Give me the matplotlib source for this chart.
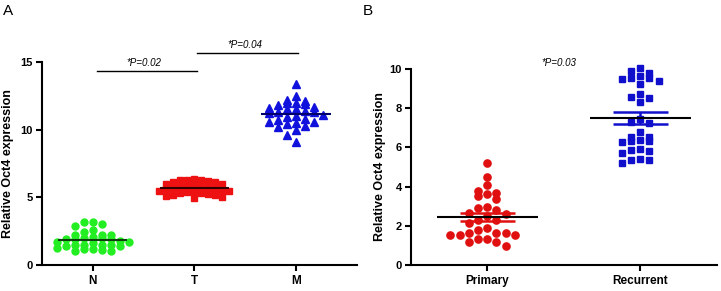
import numpy as np
import matplotlib

matplotlib.use('Agg')
import matplotlib.pyplot as plt

plt.rcParams['font.family'] = ['Liberation Sans', 'DejaVu Sans']

# panel A data
groups_a = ['N', 'T', 'M']
n_vals = [3.15, 3.15, 3.0, 2.85, 2.55, 2.45,
          2.25, 2.2, 2.2, 2.1,
          2.0, 2.0, 1.95, 1.95, 1.9,
          1.75, 1.7, 1.7, 1.65,
          1.5, 1.5, 1.45, 1.45, 1.4, 1.4,
          1.25, 1.2, 1.15, 1.1, 1.0, 1.0]
t_vals = [6.35, 6.3, 6.3, 6.25, 6.2, 6.15, 6.1, 6.0, 5.95, 5.9,
          5.85, 5.8, 5.75, 5.7, 5.7, 5.65, 5.6, 5.55, 5.5, 5.5,
          5.45, 5.4, 5.35, 5.3, 5.25, 5.2, 5.15, 5.1, 5.05, 4.95]
m_vals = [13.4, 12.5, 12.2, 12.1, 12.0, 12.0, 11.9, 11.8, 11.7, 11.6,
          11.5, 11.5, 11.4, 11.3, 11.3, 11.2, 11.1, 11.0, 10.9, 10.8,
          10.7, 10.6, 10.6, 10.5, 10.4, 10.3, 10.2, 10.0, 9.6, 9.1]
p_labels_a = ['*P=0.02', '*P=0.04']

# panel B data
groups_b = ['Primary', 'Recurrent']
primary_vals = [5.2, 4.5, 4.08, 3.78, 3.6, 3.38, 3.5, 3.69,
                2.89, 2.64, 2.58, 2.79, 2.98,
                2.30, 2.16, 2.30, 2.52,
                1.89, 1.62, 1.62, 1.51, 1.51, 1.51, 1.62, 1.79,
                1.31, 1.19, 0.97, 1.19, 1.31]
recurrent_vals = [10.05, 9.91, 9.81, 9.64, 9.52, 9.52, 9.49, 9.40, 9.22,
                  8.72, 8.50, 8.33, 8.56,
                  7.43, 7.31, 7.26, 6.80,
                  6.55, 6.51, 6.38, 6.26, 6.34, 6.34,
                  5.90, 5.83, 5.70, 5.87,
                  5.36, 5.22, 5.36, 5.42]
p_label_b = '*P=0.03'


def swarm_x(ax, xc, vals, col_px, row_px):
    # GraphPad-like column layout: group into rows, spread rows sideways
    vals = np.asarray(vals, dtype=float)
    x0 = ax.transData.transform([(0, 0)])[0]
    x1 = ax.transData.transform([(1, 1)])[0]
    ppx, ppy = x1 - x0
    order = np.argsort(-vals, kind='stable')
    xs = np.full(len(vals), float(xc))
    row = []
    for i in list(order) + [None]:
        if i is not None and (not row or (vals[row[0]] - vals[i]) * ppy <= row_px):
            row.append(i)
            continue
        for k, j in enumerate(row):
            step = (k + 1) // 2 * (1 if k % 2 == 0 else -1)
            xs[j] = xc + step * col_px / ppx
        row = [i] if i is not None else []
    return xs


def style_axes(ax):
    for s in ['top', 'right']:
        ax.spines[s].set_visible(False)
    for s in ['left', 'bottom']:
        ax.spines[s].set_linewidth(1.5)
    ax.tick_params(axis='both', width=1.5, length=4.5, direction='out')
    ax.tick_params(axis='y', pad=2, labelsize=8)
    ax.tick_params(axis='x', pad=3, labelsize=8.5)
    for lab in ax.get_xticklabels() + ax.get_yticklabels():
        lab.set_fontweight('bold')


fig = plt.figure(figsize=(7.21, 2.91), dpi=100)

# ---- panel A ----
ax1 = fig.add_axes([42 / 721, 26 / 291, 315 / 721, 203 / 291])
ax1.set_xlim(0.5, 3.6)
ax1.set_ylim(0, 15)
ax1.set_xticks([1, 2, 3])
ax1.set_xticklabels(groups_a)
ax1.set_yticks([0, 5, 10, 15])
style_axes(ax1)
ax1.set_ylabel('Relative Oct4 expression', fontsize=9, fontweight='bold')
ax1.yaxis.set_label_coords(-0.09, 0.5)

specs_a = [(n_vals, 'o', '#22ee22', 5.0, '#0d400d', 9, 6),
           (t_vals, 's', '#ee1111', 4.6, '#330000', 7, 6),
           (m_vals, '^', '#1111dd', 5.5, '#00006a', 9, 6)]
for xc, (vals, mk, col, ms, mcol, cpx, rpx) in zip([1, 2, 3], specs_a):
    xs = swarm_x(ax1, xc, vals, cpx, rpx)
    ax1.plot(xs, vals, mk, color=col, ms=ms, mec=col, ls='none', clip_on=False)
    ax1.hlines(np.mean(vals), xc - 0.34, xc + 0.34, color=mcol, lw=1.5, zorder=4)

ax1.plot([1.04, 2.03], [14.36, 14.36], color='black', lw=1, clip_on=False)
ax1.text(1.5, 14.55, p_labels_a[0], style='italic', ha='center', va='bottom', fontsize=7)
ax1.plot([2.03, 3.02], [15.69, 15.69], color='black', lw=1, clip_on=False)
ax1.text(2.5, 15.88, p_labels_a[1], style='italic', ha='center', va='bottom', fontsize=7)

# ---- panel B ----
ax2 = fig.add_axes([410.7 / 721, 26 / 291, 306 / 721, 196 / 291])
ax2.set_xlim(0.5, 2.5)
ax2.set_ylim(0, 10)
ax2.set_xticks([1, 2])
ax2.set_xticklabels(groups_b)
ax2.set_yticks([0, 2, 4, 6, 8, 10])
style_axes(ax2)
ax2.set_ylabel('Relative Oct4 expression', fontsize=9, fontweight='bold')
ax2.yaxis.set_label_coords(-0.08, 0.5)

specs_b = [(primary_vals, 'o', '#e01010', 5.2, 9.2, 8),
           (recurrent_vals, 's', '#1010cc', 4.8, 9.2, 6)]
for xc, (vals, mk, col, ms, cpx, rpx) in zip([1, 2], specs_b):
    xs = swarm_x(ax2, xc, vals, cpx, rpx)
    ax2.plot(xs, vals, mk, color=col, ms=ms, mec=col, ls='none', clip_on=False)
    mean = np.mean(vals)
    sem = np.std(vals, ddof=1) / np.sqrt(len(vals))
    ax2.hlines([mean - sem, mean + sem], xc - 0.18, xc + 0.18, color=col, lw=1.8, zorder=4)
    ax2.vlines(xc, mean - sem, mean + sem, color=col, lw=1.8, zorder=4)
    ax2.hlines(mean, xc - 0.33, xc + 0.33, color='black', lw=1.5, zorder=5)

ax2.text(1.47, 10.3, p_label_b, style='italic', ha='center', va='center', fontsize=7)

fig.text(0.004, 0.985, 'A', fontsize=11, va='top', ha='left')
fig.text(0.503, 0.985, 'B', fontsize=11, va='top', ha='left')

fig.savefig('out.png', dpi=100)
